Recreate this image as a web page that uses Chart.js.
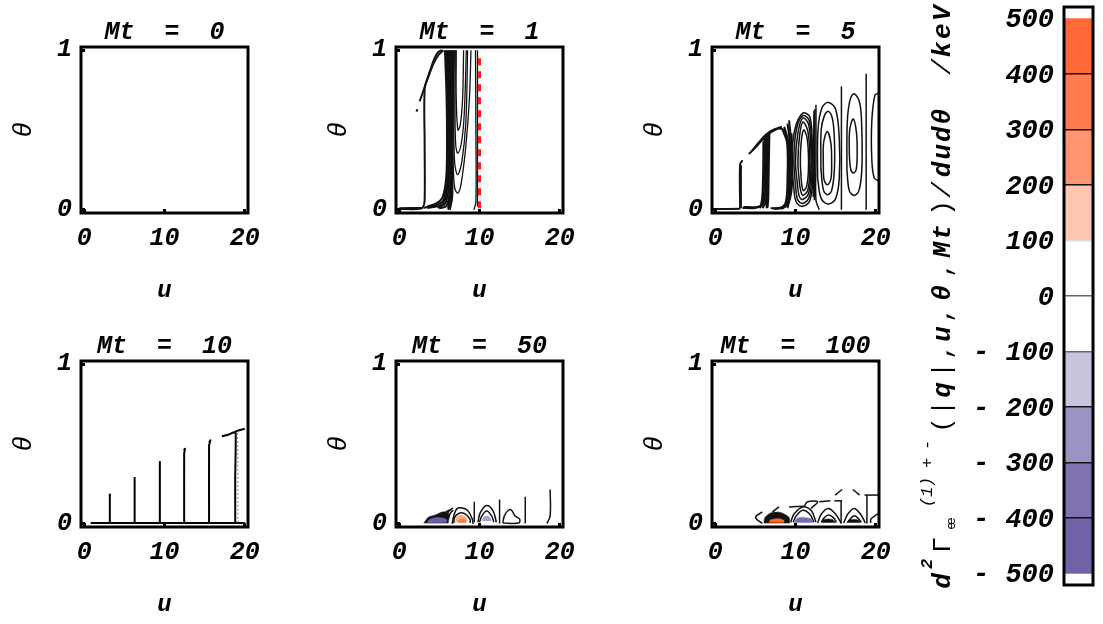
<!DOCTYPE html>
<html>
<head>
<meta charset="utf-8">
<title>Mt panels</title>
<script src="https://cdn.jsdelivr.net/npm/chart.js@4"></script>
<style>
  html, body { margin: 0; padding: 0; background: #fff; width: 1103px; height: 624px; overflow: hidden; }
  canvas { position: absolute; }
</style>
</head>
<body>
<script>
// Axis ticks
const uTicks = [0, 10, 20];
const thetaTicks = [0, 1];
const barTicks = [500, 400, 300, 200, 100, 0, -100, -200, -300, -400, -500];

// Panel titles
const mtValues = [0, 1, 5, 10, 50, 100];

// Colour bar bands
const bandLow = [400, 300, 200, 100, 0, -100, -200, -300, -400, -500];
const bandHigh = [500, 400, 300, 200, 100, 0, -100, -200, -300, -400];
const bandColors = ['#ff6a38', '#ff7c50', '#ff9570', '#ffc6b2', '#ffffff', '#ffffff', '#c9c5de', '#9d93c2', '#8072b0', '#7263a8'];

// Mt = 1 contours, [u, theta]
const mt1Thick = [
  [[0, 0.005], [2.6, 0.006], [3.0, 0.02], [3.17, 0.06], [3.17, 0.4], [3.17, 0.76], [3.6, 0.83], [4.3, 0.92], [4.9, 0.97], [5.5, 1.0]],
  [[2.55, 0.68], [2.9, 0.73], [3.3, 0.79], [3.9, 0.88], [4.4, 0.95], [4.9, 0.99], [5.3, 1.0]],
  [[2.15, 0.615], [2.25, 0.63]],
  [[0, 0.01], [3, 0.012]],
  [[5.7, 1], [5.9, 0.7], [5.95, 0.4], [5.85, 0.2], [5.4, 0.08], [4.6, 0.04], [3.5, 0.02], [3.1, 0.01]],
  [[5.85, 1], [6.0, 0.7], [6.05, 0.4], [5.95, 0.2], [5.5, 0.06], [4.6, 0.03], [3.5, 0.015]],
  [[6.0, 1], [6.1, 0.7], [6.15, 0.4], [6.05, 0.18], [5.6, 0.05], [4.6, 0.02], [3.5, 0.012]],
  [[6.15, 1], [6.2, 0.7], [6.25, 0.4], [6.15, 0.15], [5.75, 0.04], [4.8, 0.012]],
  [[6.3, 1], [6.3, 0.7], [6.35, 0.4], [6.3, 0.13], [5.9, 0.025], [5, 0.008]],
  [[6.45, 1], [6.45, 0.7], [6.4, 0.35], [6.4, 0.12], [6.1, 0.01]],
  [[6.6, 1], [6.55, 0.7], [6.5, 0.35], [6.5, 0.1], [6.1, 0]],
  [[6.75, 1], [6.65, 0.7], [6.6, 0.3], [6.6, 0.08], [6.3, 0]]
];
const mt1Lines = [
  [[6.78, 1], [6.7, 0.6], [6.72, 0.3], [6.9, 0.14], [7.28, 0.105], [7.7, 0.16], [8.3, 0.4], [8.75, 0.7], [8.94, 1]],
  [[6.86, 1], [6.8, 0.6], [6.9, 0.3], [7.28, 0.22], [7.8, 0.3], [8.3, 0.55], [8.52, 1]],
  [[6.99, 1], [6.95, 0.6], [7.05, 0.4], [7.3, 0.355], [7.75, 0.42], [8.1, 0.6], [8.36, 1]],
  [[7.11, 1], [7.1, 0.7], [7.3, 0.5], [7.6, 0.53], [7.9, 0.7], [8.02, 1]],
  [[9.5, 1], [9.55, 0.5], [9.55, 0.05], [9.3, 0]],
  [[9.75, 1], [9.75, 0.5], [9.75, 0.02]]
];
const mt1Red = [[10, 0.95], [10, 0]];

// Mt = 5 contours
const mt5Thick = [
  [[0, 0.005], [3.1, 0.006]],
  [[3.1, 0.01], [3.1, 0.285], [3.4, 0.31]],
  [[3.2, 0.01], [3.2, 0.28]],
  [[3.4, 0.012], [5.0, 0.012], [5.7, 0.03], [5.95, 0.2], [6.0, 0.43]],
  [[3.5, 0.018], [5.2, 0.018], [5.9, 0.04], [6.1, 0.2], [6.15, 0.45]],
  [[5.5, 0.01], [6.1, 0.05], [6.25, 0.2], [6.3, 0.46]],
  [[5.9, 0.01], [6.3, 0.05], [6.4, 0.2], [6.45, 0.47]],
  [[6.4, 0.01], [6.45, 0.05], [6.5, 0.2], [6.6, 0.48]],
  [[6.5, 0.01], [6.6, 0.06], [6.65, 0.2], [6.75, 0.48]],
  [[4.2, 0.35], [5.0, 0.39], [5.9, 0.44], [6.9, 0.485], [8.0, 0.51], [8.7, 0.49], [9.0, 0.42]],
  [[4.6, 0.37], [5.4, 0.42], [6.3, 0.47], [7.2, 0.5], [8.3, 0.52]],
  [[6.9, 0.01], [8.2, 0.012], [8.8, 0.05], [9.0, 0.2], [8.95, 0.42], [8.4, 0.5]],
  [[7.2, 0.008], [8.4, 0.018], [9.0, 0.06], [9.15, 0.2], [9.1, 0.42], [8.6, 0.52]],
  [[7.4, 0.005], [8.7, 0.02], [9.15, 0.08], [9.3, 0.2], [9.25, 0.44], [9.0, 0.54]],
  [[8.2, 0.005], [8.9, 0.03], [9.35, 0.1], [9.45, 0.25], [9.4, 0.45], [9.2, 0.56]],
  [[9.0, 0.01], [9.5, 0.12], [9.6, 0.28], [9.5, 0.48]]
];
const mt5Lines = [
  [[9.9, 0.08], [9.55, 0.3], [9.9, 0.5], [10.9, 0.606], [11.8, 0.58], [12.1, 0.4], [12.15, 0.2], [11.8, 0.06], [10.9, 0.022], [10.2, 0.04], [9.9, 0.08]],
  [[10.1, 0.1], [9.8, 0.3], [10.1, 0.5], [10.9, 0.59], [11.7, 0.56], [12, 0.4], [12, 0.2], [11.7, 0.08], [10.9, 0.04], [10.3, 0.06], [10.1, 0.1]],
  [[10.3, 0.13], [10.0, 0.3], [10.3, 0.48], [10.9, 0.575], [11.6, 0.54], [11.9, 0.4], [11.9, 0.22], [11.6, 0.1], [10.9, 0.065], [10.5, 0.08], [10.3, 0.13]],
  [[10.5, 0.16], [10.3, 0.3], [10.5, 0.46], [10.9, 0.55], [11.5, 0.5], [11.75, 0.38], [11.75, 0.22], [11.5, 0.12], [10.9, 0.09], [10.7, 0.11], [10.5, 0.16]],
  [[10.7, 0.2], [10.6, 0.3], [10.7, 0.42], [11, 0.5], [11.4, 0.46], [11.6, 0.36], [11.6, 0.24], [11.4, 0.15], [11, 0.12], [10.8, 0.15], [10.7, 0.2]],
  [[12.2, 0.08], [12.25, 0.35], [12.3, 0.62]],
  [[12.35, 0.06], [12.4, 0.35], [12.4, 0.63]],
  [[12.55, 0.658], [12.55, 0.3], [12.55, 0.06], [12.96, 0]],
  [[12.75, 0.2], [12.8, 0.5], [13.3, 0.64], [14.1, 0.673], [15.0, 0.63], [15.45, 0.45], [15.45, 0.2], [15.0, 0.07], [14.1, 0.036], [13.2, 0.07], [12.75, 0.2]],
  [[13.17, 0.25], [13.2, 0.5], [13.6, 0.59], [14.1, 0.617], [14.6, 0.57], [14.84, 0.45], [14.84, 0.25], [14.5, 0.12], [14, 0.095], [13.5, 0.12], [13.17, 0.25]],
  [[13.46, 0.3], [13.5, 0.42], [13.95, 0.49], [14.4, 0.42], [14.5, 0.3], [14.4, 0.19], [13.95, 0.157], [13.55, 0.19], [13.46, 0.3]],
  [[15.72, 0.773], [15.72, 0.4], [15.72, 0]],
  [[16.4, 0.25], [16.45, 0.55], [16.8, 0.69], [17.3, 0.727], [18.0, 0.67], [18.26, 0.5], [18.26, 0.25], [17.9, 0.12], [17.3, 0.09], [16.7, 0.12], [16.4, 0.25]],
  [[16.7, 0.35], [16.75, 0.5], [17.2, 0.569], [17.6, 0.48], [17.68, 0.35], [17.55, 0.25], [17.2, 0.23], [16.85, 0.26], [16.7, 0.35]],
  [[18.8, 0.852], [18.8, 0.4], [18.8, 0]],
  [[20.4, 0.73], [19.9, 0.72], [19.5, 0.55], [19.5, 0.32], [19.8, 0.2], [20.4, 0.18]]
];

// Mt = 10 contours
const mt10Lines = [
  [[0.8, 0.005], [20, 0.005]],
  [[3.19, 0.189], [3.19, 0.005]],
  [[6.28, 0.293], [6.28, 0.005]],
  [[9.42, 0.393], [9.42, 0.005]],
  [[12.4, 0.46], [12.55, 0.47], [12.45, 0.44], [12.45, 0.005]],
  [[15.55, 0.51], [15.72, 0.523], [15.55, 0.49], [15.55, 0.005]],
  [[17.15, 0.548], [18.0, 0.56], [18.85, 0.575], [18.81, 0.3], [18.81, 0.005]],
  [[18.85, 0.58], [20, 0.596]]
];
const mt10Faint = [[19.1, 0.57], [19.15, 0.3], [19.15, 0.01]];

// Mt = 50 contours and filled levels
const mt50Lines = [
  [[5.5, 0.06], [6.0, 0.08], [6.5, 0.09]],
  [[5.8, 0.04], [6.2, 0.08], [6.7, 0.1]],
  [[6.1, 0.03], [6.4, 0.07], [6.75, 0.085]],
  [[6.6, 0], [6.85, 0.06], [7.2, 0.095], [7.7, 0.1], [8.5, 0.085], [9.1, 0.03], [9.2, 0]],
  [[6.8, 0.005], [6.9, 0.04], [7.4, 0.065], [8.1, 0.065], [8.8, 0.03], [8.85, 0.005]],
  [[9.35, 0.138], [9.35, 0.01]],
  [[9.8, 0.01], [10.1, 0.07], [10.9, 0.115], [11.7, 0.08], [12.1, 0.01]],
  [[10.0, 0.01], [10.3, 0.05], [10.9, 0.08], [11.5, 0.05], [11.8, 0.01]],
  [[12.5, 0.152], [12.5, 0.002]],
  [[12.9, 0.005], [13.1, 0.05], [13.6, 0.085], [14, 0.085], [14.4, 0.05], [15, 0.03], [14.9, 0.005], [12.9, 0.005]],
  [[15.7, 0.169], [15.7, 0.002]],
  [[18.8, 0.215], [18.8, 0.05], [18.4, 0.002]]
];
const mt50Purple = [[3.5, 0.012], [3.9, 0.03], [4.8, 0.04], [5.8, 0.03], [5.9, 0.01], [3.5, 0.006]];
const mt50Black = [[3.05, 0.004], [3.6, 0.04], [4.5, 0.055], [5.5, 0.075], [6.2, 0.06], [6.1, 0.004]];
const mt50Tan = [[7.0, 0.01], [7.1, 0.04], [7.7, 0.055], [8.3, 0.04], [8.5, 0.01]];
const mt50Orange = [[7.3, 0.006], [7.5, 0.025], [7.9, 0.03], [8.3, 0.02], [8.3, 0.006]];
const mt50Pale = [[10.3, 0.017], [10.5, 0.04], [10.9, 0.05], [11.3, 0.04], [11.5, 0.017]];

// Mt = 100 contours and filled levels
const mt100Lines = [
  [[5.87, 0.075], [5.03, 0.04], [5.87, 0.002]],
  [[7.12, 0.075], [7.95, 0.106]],
  [[9.2, 0.106], [11.09, 0.11]],
  [[11.09, 0.11], [11.5, 0.138], [12.76, 0.138], [11.92, 0.096]],
  [[12.96, 0.138], [14.34, 0.144]],
  [[9.41, 0.01], [9.8, 0.06], [10.9, 0.106], [12.0, 0.08], [12.55, 0.01]],
  [[9.7, 0.01], [10.1, 0.05], [10.9, 0.085], [11.8, 0.06], [12.3, 0.01]],
  [[12.76, 0.005], [13.2, 0.06], [14.1, 0.096], [15.0, 0.06], [15.68, 0.005]],
  [[13.2, 0.01], [13.6, 0.04], [14.1, 0.055], [14.7, 0.04], [15.1, 0.01]],
  [[14.84, 0.144], [15.8, 0.144]],
  [[15.68, 0.144], [15.68, 0.002]],
  [[16.0, 0.005], [16.5, 0.06], [17.3, 0.096], [18.1, 0.06], [18.7, 0.005]],
  [[16.5, 0.01], [16.9, 0.035], [17.3, 0.05], [17.8, 0.035], [18.2, 0.01]],
  [[14.93, 0.18], [15.8, 0.215]],
  [[17.14, 0.215], [17.98, 0.18]],
  [[18.6, 0.18], [20.4, 0.18]],
  [[18.9, 0.18], [18.9, 0.002]],
  [[19.36, 0.005], [19.4, 0.03], [20, 0.054], [20.4, 0.065]]
];
const mt100Black = [[6.07, 0.004], [6.2, 0.04], [7, 0.07], [8.2, 0.07], [9.2, 0.04], [9.3, 0.004]];
const mt100Orange = [[6.7, 0.008], [6.9, 0.025], [8, 0.032], [8.58, 0.02], [8.5, 0.006]];
const mt100Purple = [[9.83, 0.006], [10.2, 0.035], [11, 0.04], [12, 0.03], [12.13, 0.006]];
const mt100BlackB = [[13.3, 0.006], [13.5, 0.027], [14.6, 0.027], [15, 0.006]];
const mt100BlackC = [[16.4, 0.006], [16.7, 0.024], [17.8, 0.024], [18.1, 0.006]];

// Colour bar axis label, read upward from the bottom
const labelParts = ['d', '2', 'Γ', 'ee', '(1)', '+', '-', '(', '|', 'q', '|', ',', 'u', ',', 'θ', ',', 'Mt', ')', '/', 'dudθ', '/', 'keV'];
const labelY = [581, 564, 545, 525, 492, 463, 445, 425, 408, 390, 370, 352, 334, 315, 293, 270, 240, 208, 190, 142, 67, 30];
const labelSize = [26, 17, 26, 13, 17, 17, 17, 26, 26, 26, 26, 26, 26, 26, 26, 26, 26, 26, 26, 26, 26, 26];
const labelX = [950, 932, 950, 955, 932, 932, 932, 950, 950, 950, 950, 950, 950, 950, 950, 950, 950, 950, 950, 950, 950, 950];
const labelStyle = ['italic bold', 'italic bold', 'normal', 'normal', 'italic', 'normal', 'normal', 'normal', 'normal', 'italic bold', 'normal', 'normal', 'italic bold', 'normal', 'italic bold', 'normal', 'italic bold', 'normal', 'italic', 'italic bold', 'italic', 'italic bold'];
const labelSpacing = [0, 0, 0, -3, 0, 0, 0, 0, 0, 0, 0, 0, 0, 0, 0, 0, 2, 0, 0, 2, 0, 2.5];

const FONT = "'Liberation Mono', monospace";

// Frame round the plot area
const framePlugin = {
  id: 'frame',
  afterDraw(chart) {
    const a = chart.chartArea, ctx = chart.ctx;
    ctx.save();
    ctx.strokeStyle = '#000';
    ctx.lineWidth = 3;
    ctx.strokeRect(a.left, a.top, a.right - a.left, a.bottom - a.top);
    ctx.restore();
  }
};

function line(data, color, width, extra) {
  return Object.assign({ data, showLine: true, pointRadius: 0, borderColor: color || '#000', borderWidth: width || 1, tension: 0.35, backgroundColor: 'transparent' }, extra || {});
}

function fillShape(data, color) {
  return line(data, color, 0.5, { fill: 'shape', backgroundColor: color, borderColor: color, tension: 0.3 });
}

function makePanel(left, top, mt, datasets) {
  const canvas = document.createElement('canvas');
  const width = 70 + 167 + 70, height = 30 + 166 + 90;
  canvas.width = width;
  canvas.height = height;
  canvas.style.left = (left - 70) + 'px';
  canvas.style.top = (top - 30) + 'px';
  document.body.appendChild(canvas);
  return new Chart(canvas, {
    type: 'scatter',
    data: { datasets },
    plugins: [framePlugin],
    options: {
      responsive: false,
      animation: false,
      layout: { padding: { left: 0, right: 70, top: 0, bottom: 0 } },
      plugins: {
        legend: { display: false },
        tooltip: { enabled: false },
        title: {
          display: true,
          fullSize: false,
          text: 'Mt  =  ' + mt,
          color: '#000',
          font: { family: FONT, size: 25, style: 'italic', weight: 'bold', lineHeight: 1 },
          padding: { top: 3, bottom: 2 }
        }
      },
      scales: {
        x: {
          type: 'linear',
          min: -0.4,
          max: 20.4,
          afterBuildTicks: s => { s.ticks = uTicks.map(value => ({ value })); },
          afterFit: s => { s.height = 90; },
          grid: { drawOnChartArea: false, tickLength: -4, tickWidth: 3, tickColor: '#000' },
          border: { display: false },
          ticks: { color: '#000', padding: 15, maxRotation: 0, font: { family: FONT, size: 25, style: 'italic', weight: 'bold' } },
          title: { display: true, text: 'u', color: '#000', padding: 0, font: { family: FONT, size: 24, style: 'italic', weight: 'bold', lineHeight: 1 } }
        },
        y: {
          type: 'linear',
          min: -0.02,
          max: 1.02,
          afterBuildTicks: s => { s.ticks = thetaTicks.map(value => ({ value })); },
          afterFit: s => { s.width = 70; },
          grid: { drawOnChartArea: false, tickLength: -4, tickWidth: 3, tickColor: '#000' },
          border: { display: false },
          ticks: { color: '#000', padding: 13, font: { family: FONT, size: 25, style: 'italic', weight: 'bold' } },
          title: { display: true, text: 'θ', color: '#000', padding: 0, font: { family: FONT, size: 26, style: 'italic', lineHeight: 1 } }
        }
      }
    }
  });
}

// Rotated label beside the colour bar
const sideLabelPlugin = {
  id: 'sideLabel',
  afterDraw(chart) {
    const ctx = chart.ctx;
    const offset = chart.canvas.offsetLeft;
    labelParts.forEach((text, i) => {
      ctx.save();
      ctx.translate(labelX[i] - offset, labelY[i]);
      ctx.rotate(-Math.PI / 2);
      ctx.font = labelStyle[i] + ' ' + labelSize[i] + 'px ' + FONT;
      ctx.letterSpacing = labelSpacing[i] + 'px';
      ctx.fillStyle = '#000';
      ctx.textAlign = 'center';
      ctx.textBaseline = 'alphabetic';
      ctx.fillText(text, 0, 0);
      ctx.restore();
    });
  }
};

function makeColorBar() {
  const canvas = document.createElement('canvas');
  canvas.width = 193;
  canvas.height = 624;
  canvas.style.left = '910px';
  canvas.style.top = '0px';
  document.body.appendChild(canvas);
  const datasets = bandLow.map((low, i) => ({
    data: [[low, bandHigh[i]]],
    backgroundColor: bandColors[i],
    borderWidth: 0,
    grouped: false,
    barPercentage: 1,
    categoryPercentage: 1
  }));
  return new Chart(canvas, {
    type: 'bar',
    data: { labels: ['level'], datasets },
    plugins: [framePlugin, sideLabelPlugin],
    options: {
      responsive: false,
      animation: false,
      layout: { padding: { left: 0, right: 10, top: 7, bottom: 39 } },
      plugins: { legend: { display: false }, tooltip: { enabled: false } },
      scales: {
        x: { display: false, offset: true, grid: { display: false } },
        y: {
          min: -520.7,
          max: 520.7,
          afterBuildTicks: s => { s.ticks = barTicks.map(value => ({ value })); },
          afterFit: s => { s.width = 154; s.paddingTop = 0; s.paddingBottom = 0; },
          grid: {
            z: 1,
            drawTicks: false,
            lineWidth: 1.5,
            color: c => {
              const v = c.tick.value;
              if (Math.abs(v) === 500) return 'transparent';
              if (v === 100) return '#ddd';
              return v === 0 || v === -100 ? '#666' : '#111';
            }
          },
          border: { display: false },
          ticks: {
            color: '#000',
            padding: 10,
            labelOffset: 2,
            font: { family: FONT, size: 27, style: 'italic', weight: 'bold' },
            callback: v => (v < 0 ? '- ' + (-v) : '' + v)
          }
        }
      }
    }
  });
}

const CONTOUR = '#111';
const thin = (arr, w) => arr.map(d => line(d, CONTOUR, w || 1.3));

makePanel(81, 47, mtValues[0], []);
makePanel(396, 47, mtValues[1], [line(mt1Red, '#ff1a1a', 3, { borderDash: [7, 6], tension: 0 })].concat(thin(mt1Thick, 2), thin(mt1Lines)));
makePanel(712, 47, mtValues[2], thin(mt5Thick, 2).concat(thin(mt5Lines, 1.5)));
makePanel(81, 361, mtValues[3], mt10Lines.map(d => line(d, '#000', 2, { tension: 0.1 })).concat([line(mt10Faint, '#888', 1, { borderDash: [2, 2] })]));
makePanel(396, 361, mtValues[4], [
  fillShape(mt50Orange, '#ff7a30'),
  fillShape(mt50Tan, '#f5b088'),
  fillShape(mt50Purple, '#6c5ea8'),
  fillShape(mt50Pale, '#a9a2cc'),
  fillShape(mt50Black, '#111')
].concat(thin(mt50Lines, 1.5)));
makePanel(712, 361, mtValues[5], [
  fillShape(mt100Orange, '#ff6a20'),
  fillShape(mt100Purple, '#7a6cb4'),
  fillShape(mt100Black, '#111'),
  fillShape(mt100BlackB, '#111'),
  fillShape(mt100BlackC, '#111')
].concat(thin(mt100Lines, 1.5)));
makeColorBar();
</script>
</body>
</html>
